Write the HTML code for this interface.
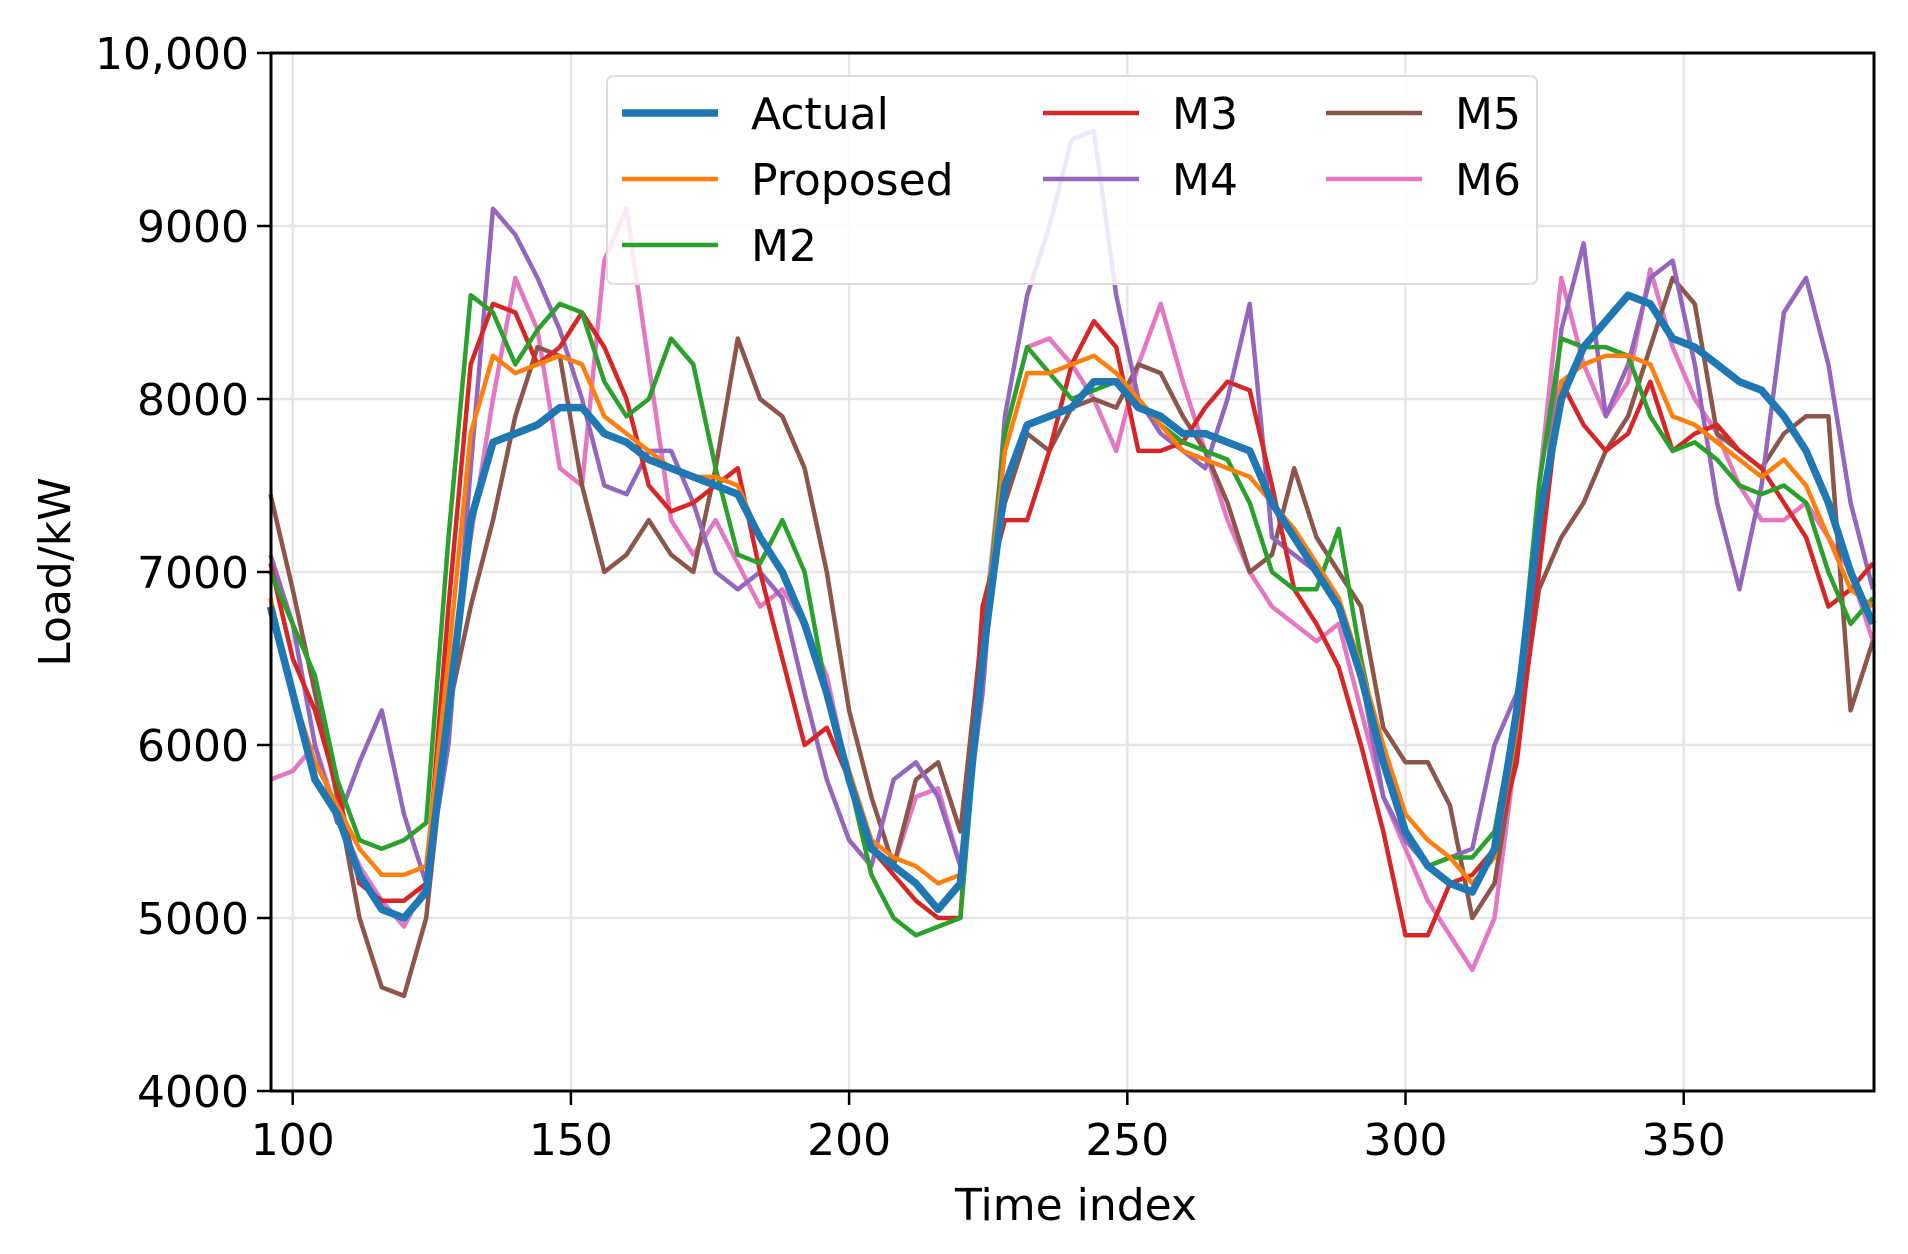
<!DOCTYPE html>
<html><head><meta charset="utf-8"><style>
body{margin:0;background:#fff;}
svg text{font-family:"DejaVu Sans","Liberation Sans",sans-serif;fill:#000;}
</style></head><body>
<svg id="chart" width="1908" height="1249" xmlns="http://www.w3.org/2000/svg">
<rect width="1908" height="1249" fill="#fff"/>
<g id="grid"></g>
<g id="series"></g>
<rect x="271" y="53" width="1603" height="1038" fill="none" stroke="#000" stroke-width="3"/>
<g id="ticks"></g>
<text x="1076" y="1220" font-size="44" text-anchor="middle">Time index</text>
<text transform="translate(70,572) rotate(-90)" font-size="44" text-anchor="middle">Load/kW</text>
<g id="legend">
<rect x="607" y="76" width="930" height="208" rx="6" fill="#fff" fill-opacity="0.85" stroke="#ddd" stroke-width="2"/>
</g>
</svg>
<script>
const xIdx=[96,100,104,108,112,116,120,124,128,132,136,140,144,148,152,156,160,164,168,172,176,180,184,188,192,196,200,204,208,212,216,220,224,228,232,236,240,244,248,252,256,260,264,268,272,276,280,284,288,292,296,300,304,308,312,316,320,324,328,332,336,340,344,348,352,356,360,364,368,372,376,380,384];
const actual=[6800,6300,5800,5600,5250,5050,5000,5150,6200,7300,7750,7800,7850,7950,7950,7800,7750,7650,7600,7550,7500,7450,7200,7000,6700,6300,5800,5400,5300,5200,5050,5200,6500,7500,7850,7900,7950,8100,8100,7950,7900,7800,7800,7750,7700,7400,7200,7000,6800,6400,5900,5500,5300,5200,5150,5400,6200,7300,8000,8300,8450,8600,8550,8350,8300,8200,8100,8050,7900,7700,7400,7000,6700];
const proposed=[6850,6300,5900,5650,5400,5250,5250,5300,6500,7800,8250,8150,8200,8250,8200,7900,7800,7700,7600,7550,7550,7500,7200,7000,6700,6300,5850,5450,5350,5300,5200,5250,6500,7700,8150,8150,8200,8250,8150,8000,7850,7700,7650,7600,7550,7400,7250,7050,6850,6450,6000,5600,5450,5350,5200,5350,6100,7300,8100,8200,8250,8250,8200,7900,7850,7750,7650,7550,7650,7500,7200,6900,6800];
const m2=[7000,6700,6400,5800,5450,5400,5450,5550,7200,8600,8500,8200,8400,8550,8500,8100,7900,8000,8350,8200,7600,7100,7050,7300,7000,6300,5800,5250,5000,4900,4950,5000,6500,7800,8300,8150,8000,8050,8100,8000,7850,7750,7700,7650,7400,7000,6900,6900,7250,6500,5900,5500,5300,5350,5350,5500,6200,7500,8350,8300,8300,8250,7900,7700,7750,7650,7500,7450,7500,7400,7000,6700,6850];
const m3=[7050,6500,6200,5750,5200,5100,5100,5200,6800,8200,8550,8500,8200,8300,8500,8300,8000,7500,7350,7400,7500,7600,7000,6500,6000,6100,5800,5400,5250,5100,5000,5000,6800,7300,7300,7700,8200,8450,8300,7700,7700,7750,7950,8100,8050,7500,6900,6700,6450,6000,5500,4900,4900,5200,5250,5400,5900,7000,8100,7850,7700,7800,8100,7700,7800,7850,7700,7600,7400,7200,6800,6900,7050];
const m4=[7100,6700,6000,5550,5900,6200,5600,5200,6000,7600,9100,8950,8700,8400,8000,7500,7450,7700,7700,7400,7000,6900,7000,6850,6300,5800,5450,5300,5800,5900,5700,5300,6300,7900,8600,9000,9500,9550,8600,8000,7800,7700,7600,8000,8550,7200,7100,7000,6800,6400,5700,5450,5300,5350,5400,6000,6300,7100,8400,8900,7900,8200,8700,8800,8200,7400,6900,7500,8500,8700,8200,7400,6900];
const m5=[7450,6900,6300,5700,5000,4600,4550,5000,6200,6800,7300,7900,8300,8250,7500,7000,7100,7300,7100,7000,7600,8350,8000,7900,7600,7000,6200,5700,5300,5800,5900,5500,6700,7400,7800,7700,7950,8000,7950,8200,8150,7900,7700,7400,7000,7100,7600,7200,7000,6800,6100,5900,5900,5650,5000,5200,6000,6900,7200,7400,7700,7900,8300,8700,8550,7800,7700,7600,7800,7900,7900,6200,6600];
const m6=[5800,5850,6000,5600,5300,5100,4950,5200,6300,7200,8000,8700,8400,7600,7500,8800,9100,8200,7300,7100,7300,7050,6800,6900,6700,6400,5800,5400,5300,5700,5750,5300,6600,7800,8300,8350,8200,8000,7700,8200,8550,8100,7700,7300,7000,6800,6700,6600,6700,6200,5700,5400,5100,4900,4700,5000,6000,7500,8700,8200,7900,8100,8750,8300,8000,7800,7500,7300,7300,7400,7200,7000,6600];
const xTicks=[100,150,200,250,300,350];
const yTicks=[4000,5000,6000,7000,8000,9000,10000];
const yTickLabels=["4000","5000","6000","7000","8000","9000","10,000"];
const seriesNames=["M6","M5","M4","M3","M2","Proposed","Actual"];

const NS="http://www.w3.org/2000/svg";
const L=271,R=1874,T=53,B=1091,XMIN=96.1,XMAX=384.2,YMIN=4000,YMAX=10000;
function sx(v){return L+(v-XMIN)/(XMAX-XMIN)*(R-L);}
function sy(v){return B-(v-YMIN)/(YMAX-YMIN)*(B-T);}
function mk(tag,attrs,parent){const e=document.createElementNS(NS,tag);for(const k in attrs)e.setAttribute(k,attrs[k]);parent.appendChild(e);return e;}
const grid=document.getElementById('grid'),ticks=document.getElementById('ticks');
xTicks.forEach(t=>{
  const g=mk('line',{x1:sx(t),x2:sx(t),y1:T,y2:B,stroke:'#e6e6e6','stroke-width':2.5},grid);
  
  
  const tk=mk('line',{x1:sx(t),x2:sx(t),y1:B,y2:B+14,stroke:'#000','stroke-width':2.5},ticks);
  
  
  const tx=mk('text',{x:sx(t),y:B+64,'font-size':44,'text-anchor':'middle'},ticks);
  tx.textContent=t;
  
  
});
yTicks.forEach((t,i)=>{
  const g=mk('line',{x1:L,x2:R,y1:sy(t),y2:sy(t),stroke:'#e6e6e6','stroke-width':2.5},grid);
  
  
  const tk=mk('line',{x1:L-14,x2:L,y1:sy(t),y2:sy(t),stroke:'#000','stroke-width':2.5},ticks);
  
  
  const tx=mk('text',{x:L-22,y:sy(t)+16,'font-size':44,'text-anchor':'end'},ticks);
  tx.textContent=yTickLabels[i];
  
  
});
const data={"Actual":actual,"Proposed":proposed,"M2":m2,"M3":m3,"M4":m4,"M5":m5,"M6":m6};
const colors={"Actual":"#1f77b4","Proposed":"#ff7f0e","M2":"#2ca02c","M3":"#d62728","M4":"#9467bd","M5":"#8c564b","M6":"#e377c2"};
const sg=document.getElementById('series');
seriesNames.forEach(n=>{
  const pts=xIdx.map((x,i)=>sx(x).toFixed(1)+','+sy(data[n][i]).toFixed(1)).join(' ');
  const p=mk('polyline',{points:pts,fill:'none',stroke:colors[n],'stroke-width':n==='Actual'?7.5:4.5,'stroke-linejoin':'round'},sg);
  
  
});
const lg=document.getElementById('legend');
const legendItems=[["Actual",622,751,113],["Proposed",622,751,179],["M2",622,751,245],["M3",1043,1172,113],["M4",1043,1172,179],["M5",1326,1455,113],["M6",1326,1455,179]];
legendItems.forEach(([n,lx,tx,y])=>{
  const l=mk('line',{x1:lx,x2:lx+96,y1:y,y2:y,stroke:colors[n],'stroke-width':n==='Actual'?7.5:4.5},lg);
  
  
  const t=mk('text',{x:tx,y:y+16,'font-size':44},lg);
  t.textContent=n;
  
  
});
</script>
</body></html>
